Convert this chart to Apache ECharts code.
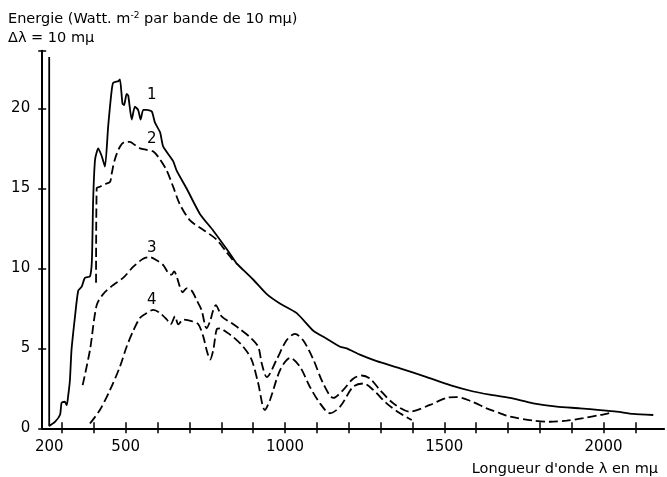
<!DOCTYPE html>
<html>
<head>
<meta charset="utf-8">
<script src="https://cdn.jsdelivr.net/npm/echarts@6/dist/echarts.min.js"></script>
<style>
  html, body { margin: 0; padding: 0; background: #fff; }
  #chart { width: 667px; height: 477px; }
</style>
</head>
<body>
<div id="chart"></div>
<script>
// Wavelength (mμ) / energy (W·m-2 per 10 mμ band)
const curve1 = [
  [260,23.2],[260,0.15],[278,0.4],[294,0.85],[299,1.6],[309,1.66],[315,1.45],[320,2.1],[325,3.0],[330,4.9],
  [341,7.0],[351,8.6],[362,8.85],[372,9.4],[388,9.5],[394,10.5],[398,14.3],[404,16.8],[414,17.5],[425,17.0],
  [435,16.35],[445,18.85],[456,21.1],[461,21.6],[477,21.7],[482,21.8],[490,20.3],[495,20.2],[503,20.9],[508,20.8],
  [519,19.3],[529,20.1],[539,19.9],[547,19.3],[555,19.9],[566,19.9],[582,19.8],[592,19.1],[608,18.5],[618,17.6],
  [649,16.7],[660,16.1],[691,15.0],[733,13.4],[775,12.35],[817,11.2],[843,10.45],[848,10.3],[900,9.3],[942,8.4],
  [984,7.8],[1037,7.2],[1089,6.1],[1131,5.6],[1173,5.1],[1194,5.0],[1235,4.6],[1288,4.2],[1361,3.75],[1445,3.2],
  [1518,2.7],[1591,2.3],[1643,2.1],[1706,1.9],[1779,1.56],[1853,1.35],[1926,1.25],[1989,1.14],[2041,1.04],[2093,0.9],
  [2156,0.83]
];
const curve2 = [
  [407,9.1],[409,15.0],[419,15.1],[440,15.3],[451,15.4],[456,15.9],[466,16.8],[482,17.6],[498,17.9],[513,17.9],
  [529,17.7],[545,17.5],[566,17.4],[587,17.3],[608,16.8],[629,16.1],[649,15.1],[670,14.0],[702,13.0],[744,12.4],
  [785,11.8],[817,11.0],[843,10.35]
];
const curve3 = [
  [365,2.7],[388,4.9],[409,7.7],[430,8.4],[461,8.96],[492,9.4],[524,10.1],[555,10.6],[576,10.7],[597,10.5],
  [618,10.2],[634,9.7],[644,9.6],[652,9.8],[660,9.5],[670,8.85],[679,8.5],[691,8.75],[707,8.6],[723,8.0],
  [738,7.4],[754,6.25],[765,6.7],[775,7.4],[783,7.7],[794,7.3],[801,7.0],[838,6.5],[859,6.2],[890,5.7],
  [916,5.1],[927,4.06],[943,3.2],[974,4.3],[1005,5.5],[1031,5.9],[1057,5.5],[1089,4.3],[1120,2.8],[1152,1.9],
  [1183,2.4],[1214,3.1],[1241,3.3],[1267,3.1],[1298,2.4],[1340,1.56],[1392,1.04],[1455,1.46],[1507,1.9],[1537,1.95],
  [1581,1.72],[1633,1.25],[1674,0.95],[1706,0.73],[1779,0.48],[1832,0.41],[1884,0.48],[1936,0.63],[1989,0.83],[2023,0.98]
];
const curve4 = [
  [388,0.3],[419,1.14],[451,2.4],[482,3.85],[503,5.1],[524,6.1],[545,6.9],[566,7.2],[587,7.4],[608,7.2],
  [629,6.8],[641,6.5],[655,7.0],[665,6.5],[681,6.8],[707,6.7],[728,6.5],[744,5.7],[754,4.9],[765,4.3],
  [775,4.9],[786,6.2],[796,6.25],[817,6.0],[838,5.7],[869,5.1],[895,4.3],[915,2.9],[937,1.14],[953,1.77],
  [985,3.65],[1016,4.4],[1047,3.85],[1078,2.6],[1110,1.56],[1141,0.94],[1173,1.35],[1214,2.6],[1246,2.8],[1277,2.4],
  [1319,1.56],[1361,0.94],[1398,0.52]
];
const curveNames = ['1', '2', '3', '4'];
const xTickValues = [300,400,500,600,700,800,900,1000,1100,1200,1300,1400,1500,1600,1700,1800,1900,2000,2100];
const xLabelValues = [500, 1000, 1500, 2000];
const xStartLabel = '200';
const yTickValues = [0, 5, 10, 15, 20];
const xMin = 238, xMax = 2190, yMin = 0, yMax = 23.6;

const FONT = 'DejaVu Sans';
const INK = '#000';
const startX = curve1[0][0];

const chart = echarts.init(document.getElementById('chart'), null, { renderer: 'canvas' });

function labelMark(name, coord) {
  return {
    symbol: 'circle', symbolSize: 1, silent: true,
    itemStyle: { color: 'rgba(0,0,0,0)' },
    label: { show: true, position: 'inside', formatter: name, color: INK, fontSize: 15, fontFamily: FONT },
    data: [{ coord: coord }]
  };
}

const lineBase = { type: 'line', showSymbol: false, symbol: 'none', animation: false, z: 3 };

chart.setOption({
  animation: false,
  backgroundColor: '#fff',
  title: [
    {
      left: 3, top: 5,
      text: 'Energie (Watt. m{sup|-2} par bande de 10 mμ)\nΔλ = 10 mμ',
      textStyle: {
        fontFamily: FONT, fontSize: 14.5, fontWeight: 'normal', color: INK, lineHeight: 19,
        rich: { sup: { fontFamily: FONT, fontSize: 9, color: INK, padding: [0, 0, 7, 0] } }
      }
    },
    {
      right: 4, top: 457,
      text: "Longueur d'onde λ en mμ",
      textStyle: { fontFamily: FONT, fontSize: 14.5, fontWeight: 'normal', color: INK }
    }
  ],
  grid: { left: 42.2, right: 2.9, top: 50.7, bottom: 48.7, containLabel: false },
  xAxis: [
    {
      type: 'value', min: xMin, max: xMax, position: 'bottom',
      axisLine: { show: true, onZero: false, lineStyle: { color: INK, width: 2 } },
      axisTick: { show: true, customValues: xTickValues, length: 5, lineStyle: { color: INK, width: 1.5 } },
      axisLabel: {
        show: true, customValues: [startX].concat(xLabelValues), margin: 11,
        formatter: function (v) { return v === startX ? xStartLabel : String(v); },
        color: INK, fontSize: 15, fontFamily: FONT
      },
      splitLine: { show: false }
    },
    {
      type: 'value', min: xMin, max: xMax, position: 'bottom',
      axisLine: { show: false },
      axisTick: { show: true, inside: true, customValues: xTickValues, length: 6, lineStyle: { color: INK, width: 1.5 } },
      axisLabel: { show: false },
      splitLine: { show: false }
    }
  ],
  yAxis: [
    {
      type: 'value', min: yMin, max: yMax, position: 'left',
      axisLine: { show: true, onZero: false, lineStyle: { color: INK, width: 2 } },
      axisTick: { show: true, customValues: yTickValues.concat([yMax]), length: 4, lineStyle: { color: INK, width: 1.5 } },
      axisLabel: {
        show: true, customValues: yTickValues, margin: 12,
        color: INK, fontSize: 15, fontFamily: FONT, padding: [0, 0, 4, 0]
      },
      splitLine: { show: false }
    },
    {
      type: 'value', min: yMin, max: yMax, position: 'left',
      axisLine: { show: false },
      axisTick: { show: true, inside: true, customValues: yTickValues.concat([yMax]), length: 4, lineStyle: { color: INK, width: 1.5 } },
      axisLabel: { show: false },
      splitLine: { show: false }
    }
  ],
  series: [
    Object.assign({}, lineBase, {
      name: curveNames[0], data: curve1, smooth: 0.2,
      lineStyle: { color: INK, width: 1.8, type: 'solid' },
      markPoint: labelMark(curveNames[0], [582, 20.8])
    }),
    Object.assign({}, lineBase, {
      name: curveNames[1], data: curve2, smooth: 0.3,
      lineStyle: { color: INK, width: 1.8, type: [9, 4] },
      markPoint: labelMark(curveNames[1], [582, 18.1])
    }),
    Object.assign({}, lineBase, {
      name: curveNames[2], data: curve3, smooth: 0.3,
      lineStyle: { color: INK, width: 1.8, type: [9, 4] },
      markPoint: labelMark(curveNames[2], [582, 11.25])
    }),
    Object.assign({}, lineBase, {
      name: curveNames[3], data: curve4, smooth: 0.3,
      lineStyle: { color: INK, width: 1.8, type: [9, 4] },
      markPoint: labelMark(curveNames[3], [582, 8.0])
    })
  ]
});
</script>
</body>
</html>
